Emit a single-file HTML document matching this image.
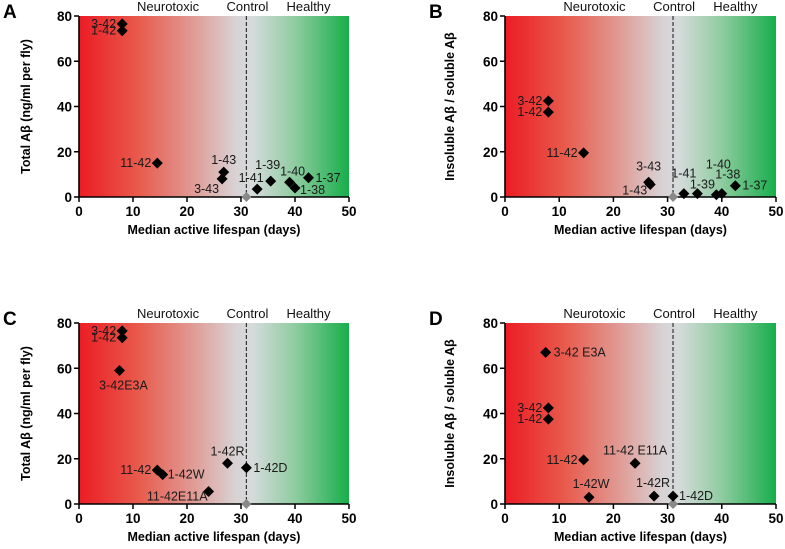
<!DOCTYPE html>
<html><head><meta charset="utf-8"><style>
html,body{margin:0;padding:0;background:#fff;}
svg{display:block;font-family:"Liberation Sans",sans-serif;}
.tk{font-size:13.5px;font-weight:bold;}
.at{font-size:12.5px;font-weight:bold;}
.pl{font-size:12.5px;fill:#1a1a1a;}
.hd{font-size:13px;fill:#111;}
.let{font-size:19px;font-weight:bold;}
</style></head><body>
<svg id="chart" width="785" height="549" viewBox="0 0 785 549" xmlns="http://www.w3.org/2000/svg">
<defs>
<linearGradient id="grad" x1="0" y1="0" x2="1" y2="0">
<stop offset="0" stop-color="#ec1c24"/>
<stop offset="0.22" stop-color="#e85a4c"/>
<stop offset="0.42" stop-color="#e09a94"/>
<stop offset="0.58" stop-color="#d8d2d4"/>
<stop offset="0.64" stop-color="#d6dbdc"/>
<stop offset="0.80" stop-color="#8fcca0"/>
<stop offset="1" stop-color="#17ae4b"/>
</linearGradient>
</defs>
</svg>
<script>
// Panel A
const aNames=["3-42","1-42","11-42","1-43","3-43","1-41","1-39","1-40","1-38","1-37"];
const aX=[8,8,14.5,26.8,26.5,33,35.5,39,40,42.5];
const aY=[76.5,73.5,15,11,8,3.5,7,6.5,4,8.5];
const aLdx=[-6,-6,-6,0,-3,-6,-3,3,5,7];
const aLdy=[4,4,4,-8,14,-7,-12,-7,6,4];
const aAnc=["end","end","end","middle","end","middle","middle","middle","start","start"];
// Panel B
const bNames=["3-42","1-42","11-42","3-43","1-43","1-41","1-39","1-40","1-38","1-37"];
const bX=[8,8,14.5,26.5,26.8,33,35.5,39,40,42.5];
const bY=[42.5,37.5,19.5,6.5,5.5,1.5,1.5,1,1.5,5];
const bLdx=[-6,-6,-6,0,-3,0,5,2,6,7];
const bLdy=[4,4,4,-12,10,-16,-5,-26,-15,4];
const bAnc=["end","end","end","middle","end","middle","middle","middle","middle","start"];
// Panel C
const cNames=["3-42","1-42","3-42E3A","11-42","1-42W","11-42E11A","1-42R","1-42D"];
const cX=[8,8,7.5,14.5,15.5,24,27.5,31];
const cY=[76.5,73.5,59,15,13,5.5,18,16];
const cLdx=[-6,-6,4,-6,5,-1,0,7];
const cLdy=[4,4,19,4,4,9,-8,4];
const cAnc=["end","end","middle","end","start","end","middle","start"];
// Panel D
const dNames=["3-42 E3A","3-42","1-42","11-42","11-42 E11A","1-42W","1-42R","1-42D"];
const dX=[7.5,8,8,14.5,24,15.5,27.5,31];
const dY=[67,42.5,37.5,19.5,18,3,3.5,3.5];
const dLdx=[8,-6,-6,-6,0,2,-1,6];
const dLdy=[4,4,4,4,-9,-9,-9,4];
const dAnc=["start","end","end","end","middle","middle","middle","start"];

const xTicks=[0,10,20,30,40,50];
const yTicks=[0,20,40,60,80];
const controlX=31;

const NS="http://www.w3.org/2000/svg";
const svg=document.getElementById("chart");
function mk(tag,attrs,parent,text){const e=document.createElementNS(NS,tag);for(const k in attrs)e.setAttribute(k,attrs[k]);if(text!==undefined)e.textContent=text;(parent||svg).appendChild(e);return e;}

const panels=[
 {id:"a",letter:"A",L:79,R:349,T:16,B:197,ytitle:"Total A\u03b2 (ng/ml per fly)",ytx:30,n:aNames,x:aX,y:aY,dx:aLdx,dy:aLdy,an:aAnc},
 {id:"b",letter:"B",L:505,R:776,T:16,B:197,ytitle:"Insoluble A\u03b2 / soluble A\u03b2",ytx:454,n:bNames,x:bX,y:bY,dx:bLdx,dy:bLdy,an:bAnc},
 {id:"c",letter:"C",L:79,R:349,T:323,B:504,ytitle:"Total A\u03b2 (ng/ml per fly)",ytx:30,n:cNames,x:cX,y:cY,dx:cLdx,dy:cLdy,an:cAnc},
 {id:"d",letter:"D",L:505,R:776,T:323,B:504,ytitle:"Insoluble A\u03b2 / soluble A\u03b2",ytx:454,n:dNames,x:dX,y:dY,dx:dLdx,dy:dLdy,an:dAnc}
];

panels.forEach(p=>{
 const g=mk("g",{});
 
 
 const sx=v=>p.L+(v/50)*(p.R-p.L);
 const sy=v=>p.B-(v/80)*(p.B-p.T);
 const bg=mk("rect",{x:p.L,y:p.T,width:p.R-p.L,height:p.B-p.T,fill:"url(#grad)"},g);
 
 
 const lt=mk("text",{x:p.L-76,y:p.T+2,class:"let"},g,p.letter);
 
 
 const hdrs=[["Neurotoxic",16.5],["Control",31.2],["Healthy",42.5]];
 hdrs.forEach(h=>{const t=mk("text",{x:sx(h[1]),y:p.T-5,class:"hd","text-anchor":"middle"},g,h[0]);
  
  });
 const cl=mk("line",{x1:sx(controlX),x2:sx(controlX),y1:p.T,y2:p.B,stroke:"#333","stroke-width":1.2,"stroke-dasharray":"4,2"},g);
 
 
 const ax=mk("path",{d:`M${p.L},${p.T} V${p.B} H${p.R}`,fill:"none",stroke:"#000","stroke-width":1.6},g);
 
 
 xTicks.forEach(v=>{mk("line",{x1:sx(v),x2:sx(v),y1:p.B,y2:p.B+5,stroke:"#000","stroke-width":1.5},g);
  const t=mk("text",{x:sx(v),y:p.B+19,class:"tk","text-anchor":"middle"},g,v);
  
  });
 yTicks.forEach(v=>{mk("line",{x1:p.L-5,x2:p.L,y1:sy(v),y2:sy(v),stroke:"#000","stroke-width":1.5},g);
  const t=mk("text",{x:p.L-7,y:sy(v)+5,class:"tk","text-anchor":"end"},g,v);
  
  });
 const xt=mk("text",{x:(p.L+p.R)/2,y:p.B+37,class:"at","text-anchor":"middle"},g,"Median active lifespan (days)");
 
 
 const ycy=(p.T+p.B)/2;
 const yt=mk("text",{x:p.ytx,y:ycy,class:"at","text-anchor":"middle",transform:`rotate(-90 ${p.ytx} ${ycy})`},g,p.ytitle);
 
 
 const cp=mk("path",{d:`M${sx(controlX)},${sy(0)-5} l5,5 l-5,5 l-5,-5z`,fill:"#888"},g);
 
 
 p.n.forEach((nm,i)=>{
  const px=sx(p.x[i]),py=sy(p.y[i]);
  const d=mk("path",{d:`M${px},${py-5.5} l5.5,5.5 l-5.5,5.5 l-5.5,-5.5z`,fill:"#000"},g);
  
  
  const t=mk("text",{x:px+p.dx[i],y:py+p.dy[i],class:"pl","text-anchor":p.an[i]},g,nm);
  
  
 });
});
</script>
</body></html>
